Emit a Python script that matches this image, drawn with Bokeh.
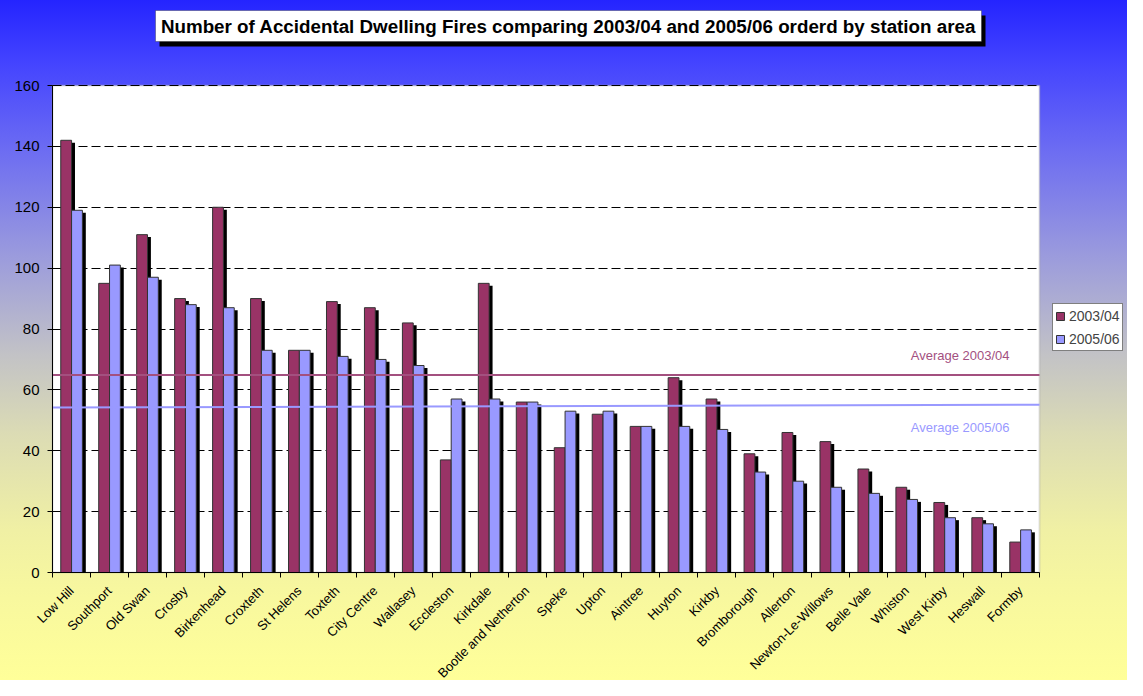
import math
from bokeh.plotting import figure
from bokeh.models import (ColumnDataSource, FixedTicker, Range1d, Label,
                          BoxAnnotation, Legend, LegendItem)
from bokeh.transform import dodge
from bokeh.embed import file_html
from bokeh.resources import INLINE

# ---------------- data ----------------
stations = ["Low Hill", "Southport", "Old Swan", "Crosby", "Birkenhead", "Croxteth",
            "St Helens", "Toxteth", "City Centre", "Wallasey", "Eccleston", "Kirkdale",
            "Bootle and Netherton", "Speke", "Upton", "Aintree", "Huyton", "Kirkby",
            "Bromborough", "Allerton", "Newton-Le-Willows", "Belle Vale", "Whiston",
            "West Kirby", "Heswall", "Formby"]
fires_2003_04 = [142, 95, 111, 90, 120, 90, 73, 89, 87, 82, 37, 95, 56, 41, 52, 48,
                 64, 57, 39, 46, 43, 34, 28, 23, 18, 10]
fires_2005_06 = [119, 101, 97, 88, 87, 73, 73, 71, 70, 68, 57, 57, 56, 53, 53, 48,
                 48, 47, 33, 30, 28, 26, 24, 18, 16, 14]
avg_2003_04 = [64.9, 64.9]
avg_2005_06 = [54.2, 55.1]
y_ticks = [0, 20, 40, 60, 80, 100, 120, 140, 160]
series_names = ["2003/04", "2005/06"]
title_text = ("Number of Accidental Dwelling Fires comparing 2003/04 and 2005/06 "
              "orderd by station area")

FONT = "Liberation Sans"
C03 = "#993366"
C05 = "#9999ff"
CAVG03 = "#a3507f"

n = len(stations)
y_max = y_ticks[-1]
idx = list(range(n))
shadow_drop = 0.8
src = ColumnDataSource(dict(
    idx=idx,
    v03=fires_2003_04,
    v05=fires_2005_06,
    s03=[v - shadow_drop for v in fires_2003_04],
    s05=[v - shadow_drop for v in fires_2005_06],
))

# layout: the frame covers the whole canvas; the white plot area is
# PLOT_W x PLOT_H, LEFT px from the canvas left and BELOW px above its bottom
W, H = 1127, 680
LEFT, BELOW = 52, 108
PLOT_W, PLOT_H = 987, 487
xpp = n / PLOT_W
ypp = y_max / PLOT_H

p = figure(width=W, height=H, title=None,
           x_range=Range1d(-LEFT * xpp, (W - LEFT) * xpp),
           y_range=Range1d(-BELOW * ypp, (H - BELOW) * ypp),
           output_backend="svg", toolbar_location=None,
           min_border_left=0, min_border_right=0, min_border_top=0,
           min_border_bottom=0)
p.background_fill_color = None
p.border_fill_color = None
p.outline_line_color = None
p.styles = {"background": "linear-gradient(to bottom, #2424ff 0%, #4343ff 9%, "
                          "#6c6cf2 22%, #9c9cdc 38%, #c2c2c6 52%, #dcdcb4 64%, "
                          "#f0f0a4 78%, #f8f89e 88%, #ffff99 100%)"}

# white plot area with grey border
p.add_layout(BoxAnnotation(left=0, right=n, bottom=0, top=y_max,
                           fill_color="white", fill_alpha=1,
                           line_color="#a0a0a0", line_width=2, level="image"))

# grid
p.xgrid.visible = False
p.ygrid.ticker = FixedTicker(ticks=y_ticks[1:])
p.ygrid.bounds = (0, y_max)
p.ygrid.cross_bounds = (0, n)
p.ygrid.grid_line_color = "black"
p.ygrid.grid_line_dash = "9 4"
p.ygrid.grid_line_width = 1

# axes (drawn at the plot area's edges)
p.yaxis.fixed_location = 0
p.yaxis.bounds = (0, y_max)
p.yaxis.ticker = FixedTicker(ticks=y_ticks)
p.yaxis.major_tick_out = 5
p.yaxis.major_tick_in = 0
p.yaxis.minor_tick_line_color = None
p.yaxis.major_label_text_font = FONT
p.yaxis.major_label_text_font_size = "15px"
p.yaxis.major_label_text_color = "black"
p.yaxis.major_label_standoff = 8
p.yaxis.axis_line_color = "black"

centers = [i + 0.5 for i in idx]
bounds = list(range(n + 1))
p.xaxis.fixed_location = 0
p.xaxis.bounds = (0, n)
p.xaxis.ticker = FixedTicker(ticks=centers, minor_ticks=bounds)
p.xaxis.major_label_overrides = {c: s for c, s in zip(centers, stations)}
p.xaxis.major_tick_out = 0
p.xaxis.major_tick_in = 0
p.xaxis.minor_tick_out = 5
p.xaxis.minor_tick_in = 0
p.xaxis.minor_tick_line_color = "black"
p.xaxis.minor_tick_line_width = 1
p.xaxis.major_label_orientation = math.pi / 4
p.xaxis.major_label_text_font = FONT
p.xaxis.major_label_text_font_size = "13px"
p.xaxis.major_label_text_color = "black"
p.xaxis.major_label_standoff = 11
p.xaxis.axis_line_color = "black"

# bars with 3D-like shadow
w = 0.285
off03, off05, sh = 0.36, 0.645, 0.09
p.vbar(x=dodge("idx", off03 + sh), top="s03", width=w, fill_color="black",
       line_color=None, source=src)
r03 = p.vbar(x=dodge("idx", off03), top="v03", width=w, fill_color=C03,
             line_color="#333333", line_width=1, source=src)
p.vbar(x=dodge("idx", off05 + sh), top="s05", width=w, fill_color="black",
       line_color=None, source=src)
r05 = p.vbar(x=dodge("idx", off05), top="v05", width=w, fill_color=C05,
             line_color="#333333", line_width=1, source=src)

# average lines
p.line([0, n], avg_2003_04, line_color=CAVG03, line_width=2)
p.line([0, n], avg_2005_06, line_color=C05, line_width=2)
p.add_layout(Label(x=n - 0.79, y=avg_2003_04[1] + 6.4, text="Average 2003/04",
                   text_align="right", text_baseline="middle", text_font=FONT,
                   text_font_size="13px", text_color=CAVG03))
p.add_layout(Label(x=n - 0.79, y=avg_2005_06[1] - 7.5, text="Average 2005/06",
                   text_align="right", text_baseline="middle", text_font=FONT,
                   text_font_size="13px", text_color=C05))

# legend (right of the plot area; screen units from the canvas bottom-left)
legend = Legend(items=[LegendItem(label=series_names[0], renderers=[r03]),
                       LegendItem(label=series_names[1], renderers=[r05])],
                location=(1000 + LEFT, 221 + BELOW))
legend.glyph_width = 10
legend.glyph_height = 10
legend.label_text_font = FONT
legend.label_text_font_size = "14px"
legend.label_height = 19
legend.spacing = 4
legend.padding = 2
legend.margin = 0
legend.label_standoff = 4
legend.border_line_color = "black"
legend.background_fill_color = "white"
legend.background_fill_alpha = 1
p.add_layout(legend)

# title box with shadow (screen units from the canvas bottom-left)
p.add_layout(BoxAnnotation(left=107 + LEFT, right=933 + LEFT,
                           top=557 + BELOW, bottom=526 + BELOW,
                           left_units="screen", right_units="screen",
                           top_units="screen", bottom_units="screen",
                           fill_color="black", fill_alpha=1, line_color=None,
                           level="overlay"))
p.add_layout(BoxAnnotation(left=103 + LEFT, right=929 + LEFT,
                           top=562 + BELOW, bottom=531 + BELOW,
                           left_units="screen", right_units="screen",
                           top_units="screen", bottom_units="screen",
                           fill_color="white", fill_alpha=1, line_color="black",
                           line_width=1, level="overlay"))
p.add_layout(Label(x=516 + LEFT, y=546.5 + BELOW, x_units="screen", y_units="screen",
                   text=title_text, text_align="center", text_baseline="middle",
                   text_font=FONT, text_font_size="18.8px", text_font_style="bold",
                   text_color="black", level="overlay"))

open("out.html", "w").write(file_html(p, INLINE))
